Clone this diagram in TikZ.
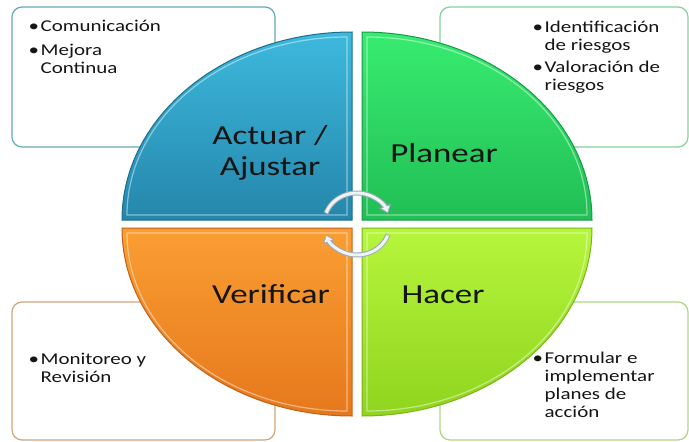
\documentclass[tikz,border=0pt]{standalone}
\usepackage{fontspec}
\setmainfont[FakeStretch=1.27]{Carlito}
\usetikzlibrary{arrows.meta}
\definecolor{txt}{HTML}{151515}
\definecolor{blueT}{HTML}{3DB9DD}
\definecolor{blueB}{HTML}{2586AB}
\definecolor{blueE}{HTML}{1C6E8C}
\definecolor{greenT}{HTML}{38EC70}
\definecolor{greenB}{HTML}{21BE55}
\definecolor{greenE}{HTML}{179A4A}
\definecolor{orangeT}{HTML}{FA9E33}
\definecolor{orangeB}{HTML}{E6781C}
\definecolor{orangeE}{HTML}{BF621A}
\definecolor{limeT}{HTML}{B6F63C}
\definecolor{limeB}{HTML}{90D41F}
\definecolor{limeE}{HTML}{7BB31A}
\definecolor{bTL}{HTML}{64A8BB}
\definecolor{bTR}{HTML}{86D296}
\definecolor{bBL}{HTML}{D4A478}
\definecolor{bBR}{HTML}{ADD684}
\definecolor{arrE}{HTML}{9AABB5}
\definecolor{arrF}{HTML}{EEF3F5}
\newcommand{\bu}{\makebox[12pt][l]{\textbullet}}
\begin{document}
\begin{tikzpicture}[x=1pt,y=-1pt,
  box/.style={draw, line width=1.2pt, rounded corners=10pt, fill=white, inner sep=0pt},
  quad/.style={line width=1pt},
  bevel/.style={draw=white, draw opacity=0.45, line width=1.2pt},
  lbl/.style={font=\fontsize{27.5}{31}\selectfont, text=txt, inner sep=0pt, align=center},
  itm/.style={font=\fontsize{16.5}{18}\selectfont, text=txt, inner sep=0pt, anchor=base west},
  cycout/.style={line width=5pt, draw=arrE, -{Triangle[length=8pt,width=12pt]}},
  cycin/.style={line width=3pt, draw=arrF, -{Triangle[length=5.5pt,width=8pt]}, shorten >=1.4pt, shorten <=0.8pt}
]
\useasboundingbox (0,0) rectangle (689,442);

% background boxes
\node[box, draw=bTL, minimum width=263pt, minimum height=140pt] (bxtl) at (143.5,77) {};
\node[box, draw=bTR, minimum width=248pt, minimum height=140pt] (bxtr) at (564,77) {};
\node[box, draw=bBL, minimum width=263pt, minimum height=138pt] (bxbl) at (143.5,371) {};
\node[box, draw=bBR, minimum width=248pt, minimum height=138pt] (bxbr) at (564,371) {};

% box texts
\node[itm] (ttl) at (28.5,31.5) {\begin{tabular}[t]{@{}l@{}l@{}}\bu & Comunicación\\[5.5pt] \bu & Mejora\\ & Continua\end{tabular}};
\node[itm] (ttr) at (532.5,32) {\begin{tabular}[t]{@{}l@{}l@{}}\bu & Identificación\\ & de riesgos\\[4.5pt] \bu & Valoración de\\ & riesgos\end{tabular}};
\node[itm] (tbl) at (28.5,364.5) {\begin{tabular}[t]{@{}l@{}l@{}}\bu & Monitoreo y\\ & Revisión\end{tabular}};
\node[itm] (tbr) at (532.5,363) {\begin{tabular}[t]{@{}l@{}l@{}}\bu & Formular e\\ & implementar\\ & planes de\\ & acción\end{tabular}};

% quadrants
\path[quad, draw=blueE, top color=blueT, bottom color=blueB]
  (352,220) -- (122,220) arc[start angle=180, end angle=270, x radius=230, y radius=188] -- cycle;
\path[quad, draw=greenE, top color=greenT, bottom color=greenB]
  (362,220) -- (592,220) arc[start angle=0, end angle=-90, x radius=230, y radius=188] -- cycle;
\path[quad, draw=orangeE, top color=orangeT, bottom color=orangeB]
  (352,228) -- (122,228) arc[start angle=180, end angle=90, x radius=230, y radius=188] -- cycle;
\path[quad, draw=limeE, top color=limeT, bottom color=limeB]
  (362,228) -- (592,228) arc[start angle=0, end angle=90, x radius=230, y radius=188] -- cycle;

% bevels
\draw[bevel] (347,215) -- (127,215) arc[start angle=180, end angle=270, x radius=220, y radius=178] -- cycle;
\draw[bevel] (367,215) -- (587,215) arc[start angle=0, end angle=-90, x radius=220, y radius=178] -- cycle;
\draw[bevel] (347,233) -- (127,233) arc[start angle=180, end angle=90, x radius=220, y radius=178] -- cycle;
\draw[bevel] (367,233) -- (587,233) arc[start angle=0, end angle=90, x radius=220, y radius=178] -- cycle;

% labels
\node[lbl] (actuar) at (270,153) {Actuar /\\Ajustar};
\node[lbl, anchor=base] (planear) at (444,162) {Planear};
\node[lbl, anchor=base] (verificar) at (271,303) {Verificar};
\node[lbl, anchor=base] (hacer) at (443,303) {Hacer};

% cycle arrows
\coordinate (c1) at (326,213.4);
\coordinate (c2) at (388,234.6);
\draw[cycout] (c1) arc[start angle=200, end angle=340, x radius=33, y radius=31];
\draw[cycin]  (c1) arc[start angle=200, end angle=340, x radius=33, y radius=31];
\draw[cycout] (c2) arc[start angle=20, end angle=160, x radius=33, y radius=31];
\draw[cycin]  (c2) arc[start angle=20, end angle=160, x radius=33, y radius=31];
\end{tikzpicture}
\end{document}
